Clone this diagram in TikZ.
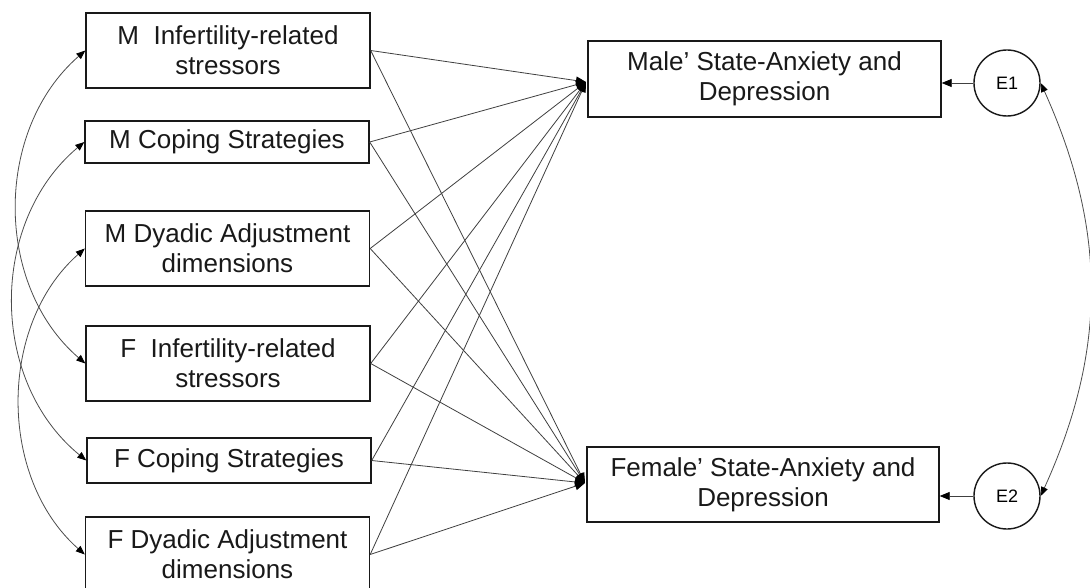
\documentclass[tikz,border=0pt]{standalone}
\usepackage{fontspec}
\setmainfont{Liberation Sans}
\usetikzlibrary{arrows.meta}
\begin{document}
\begin{tikzpicture}[x=1pt,y=-1pt,
  box/.style={draw=black!90, line width=1.4pt, minimum width=284pt, align=center,
    font=\fontsize{26}{30}\selectfont, inner sep=0pt, text=black!90},
  obox/.style={box, minimum width=353pt, minimum height=76pt},
  ebox/.style={draw=black!90, line width=1.4pt, circle, minimum size=66pt, inner sep=0pt,
    font=\fontsize{18}{20}\selectfont},
  conn/.style={draw=black!75, line width=0.8pt, -{Triangle[length=10pt,width=8pt,fill=black,color=black]}},
  dconn/.style={draw=black!70, line width=0.8pt,
    {Triangle[length=9pt,width=7pt,fill=black,color=black]}-{Triangle[length=9pt,width=7pt,fill=black,color=black]}}
]
\clip (0,0) rectangle (1090,588);
\fill[white] (0,0) rectangle (1090,588);

\node[box, minimum height=75pt] (b1) at (228,50.5) {M\ \ Infertility-related\\stressors};
\node[box, minimum height=42pt] (b2) at (227,142) {M Coping Strategies};
\node[box, minimum height=75pt] (b3) at (227.5,248.5) {M Dyadic Adjustment\\dimensions};
\node[box, minimum height=75pt] (b4) at (228,363.5) {F\ \ Infertility-related\\stressors};
\node[box, minimum height=45pt] (b5) at (229,460.5) {F Coping Strategies};
\node[box, minimum height=75pt] (b6) at (227.5,554.5) {F Dyadic Adjustment\\dimensions};

\node[obox] (m) at (764.5,79) {Male’ State-Anxiety and\\Depression};
\node[obox, minimum width=352pt, minimum height=75pt] (f) at (763,484.5) {Female’ State-Anxiety and\\Depression};

\node[ebox] (e1) at (1007,83) {E1};
\node[ebox] (e2) at (1007,496) {E2};

\coordinate (mt) at (586,82);
\coordinate (ft) at (585,483);

\foreach \b in {b1,b2,b3,b4,b5,b6} {
  \draw[conn] (\b.east) -- (mt);
  \draw[conn] (\b.east) -- (ft);
}

\draw[conn] (e1.west) -- (e1.west -| m.east);
\draw[conn] (e2.west) -- (e2.west -| f.east);

\draw[dconn] (b1.west) .. controls (-6,130) and (-6,285) .. (b4.west);
\draw[dconn] (b2.west) .. controls (-11,222) and (-11,381) .. (b5.west);
\draw[dconn] (b3.west) .. controls (-2,325) and (-2,478) .. (b6.west);

\draw[dconn] (e1.east) .. controls (1107,230) and (1107,350) .. (e2.east);
\end{tikzpicture}
\end{document}
